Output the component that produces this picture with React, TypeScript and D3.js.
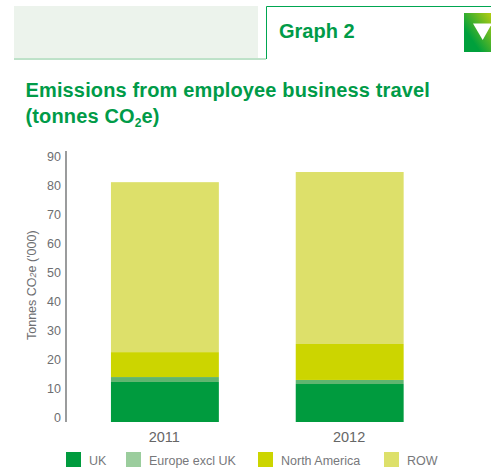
import React from "react";
import * as d3 from "d3";

const years = ["2011", "2012"];
const seriesNames = ["UK", "Europe excl UK", "North America", "ROW"];
const uk = [13.8, 13.1];
const europe = [1.7, 1.4];
const northAmerica = [8.6, 12.4];
const row = [58.6, 59.3];
const yTicks = [0, 10, 20, 30, 40, 50, 60, 70, 80, 90];
const colours = ["#009b3e", "#60b56f", "#ccd500", "#dde06a"];
const legendColours = ["#009b3e", "#9bcd9d", "#ccd500", "#dde06a"];
const legendX = [66, 126, 258, 384];

const font = "'Liberation Sans', Arial, sans-serif";
const green = "#009b48";

export default function App() {
  const x = d3.scaleBand<string>().domain(years).range([66.6, 448]).paddingInner(0.416).paddingOuter(0.24);
  const y = d3.scaleLinear().domain([0, 90]).range([422, 161]);

  const rows = years.map((year, i) => ({
    year,
    UK: uk[i],
    "Europe excl UK": europe[i],
    "North America": northAmerica[i],
    ROW: row[i],
  }));
  const stacked = d3.stack<any>().keys(seriesNames)(rows);

  return (
    <svg
      width={491}
      height={469}
      style={{ position: "absolute", left: 0, top: 0, background: "#fff" }}
      fontFamily={font}
    >
      <defs>
        <linearGradient id="badge" x1="0" y1="1" x2="1" y2="0">
          <stop offset="0.3" stopColor="#00a03c" />
          <stop offset="1" stopColor="#b4cd10" />
        </linearGradient>
      </defs>

      {/* Header tab */}
      <rect x={14} y={6} width={244} height={52} fill="#ecf3ec" />
      <path d="M14 59H266" fill="none" stroke="#7cc492" strokeWidth={1} />
      <path d="M266.5 59V6.5H491" fill="none" stroke="#00a651" strokeWidth={1} />
      <text x={279} y={38} fontSize={20} fontWeight={700} fill={green}>Graph 2</text>
      <rect x={464} y={13} width={27} height={39} fill="url(#badge)" />
      <path d="M473 23.5L492 23.5L482.7 40Z" fill="#fff" />

      {/* Title */}
      <text x={25.5} y={97} fontSize={20} fontWeight={700} fill={green} letterSpacing={0.14}>
        Emissions from employee business travel
      </text>
      <text x={25.5} y={122.5} fontSize={20} fontWeight={700} fill={green} letterSpacing={0.14}>
        (tonnes CO<tspan fontSize={12} dy={4}>2</tspan><tspan dy={-4}>e)</tspan>
      </text>

      {/* Stacked bars */}
      {stacked.map((layer, s) =>
        layer.map((d, i) => (
          <rect
            key={`${s}-${i}`}
            x={x(years[i])}
            width={x.bandwidth()}
            y={y(d[1])}
            height={y(d[0]) - y(d[1])}
            fill={colours[s]}
          />
        ))
      )}

      {/* Value axis */}
      <line x1={66} x2={66} y1={151} y2={422} stroke="#58595b" strokeWidth={1.2} />
      {yTicks.map((t) => (
        <text key={t} x={61} y={y(t)} textAnchor="end" fontSize={12.5} fill="#6d6e71">{t}</text>
      ))}
      <text transform="translate(35.5,340) rotate(-90)" fontSize={12.5} fill="#6d6e71">
        Tonnes CO<tspan fontSize={9} fontStyle="italic">2</tspan>e ('000)
      </text>

      {/* Category labels */}
      {years.map((year) => (
        <text key={year} x={x(year)! + x.bandwidth() / 2 - 0.6} y={442} textAnchor="middle" fontSize={14.5} fill="#666">
          {year}
        </text>
      ))}

      {/* Legend */}
      {seriesNames.map((name, i) => (
        <g key={name}>
          <rect x={legendX[i]} y={452} width={15} height={15} fill={legendColours[i]} />
          <text x={legendX[i] + 23} y={465} fontSize={12.5} fill="#77787b">{name}</text>
        </g>
      ))}
    </svg>
  );
}
